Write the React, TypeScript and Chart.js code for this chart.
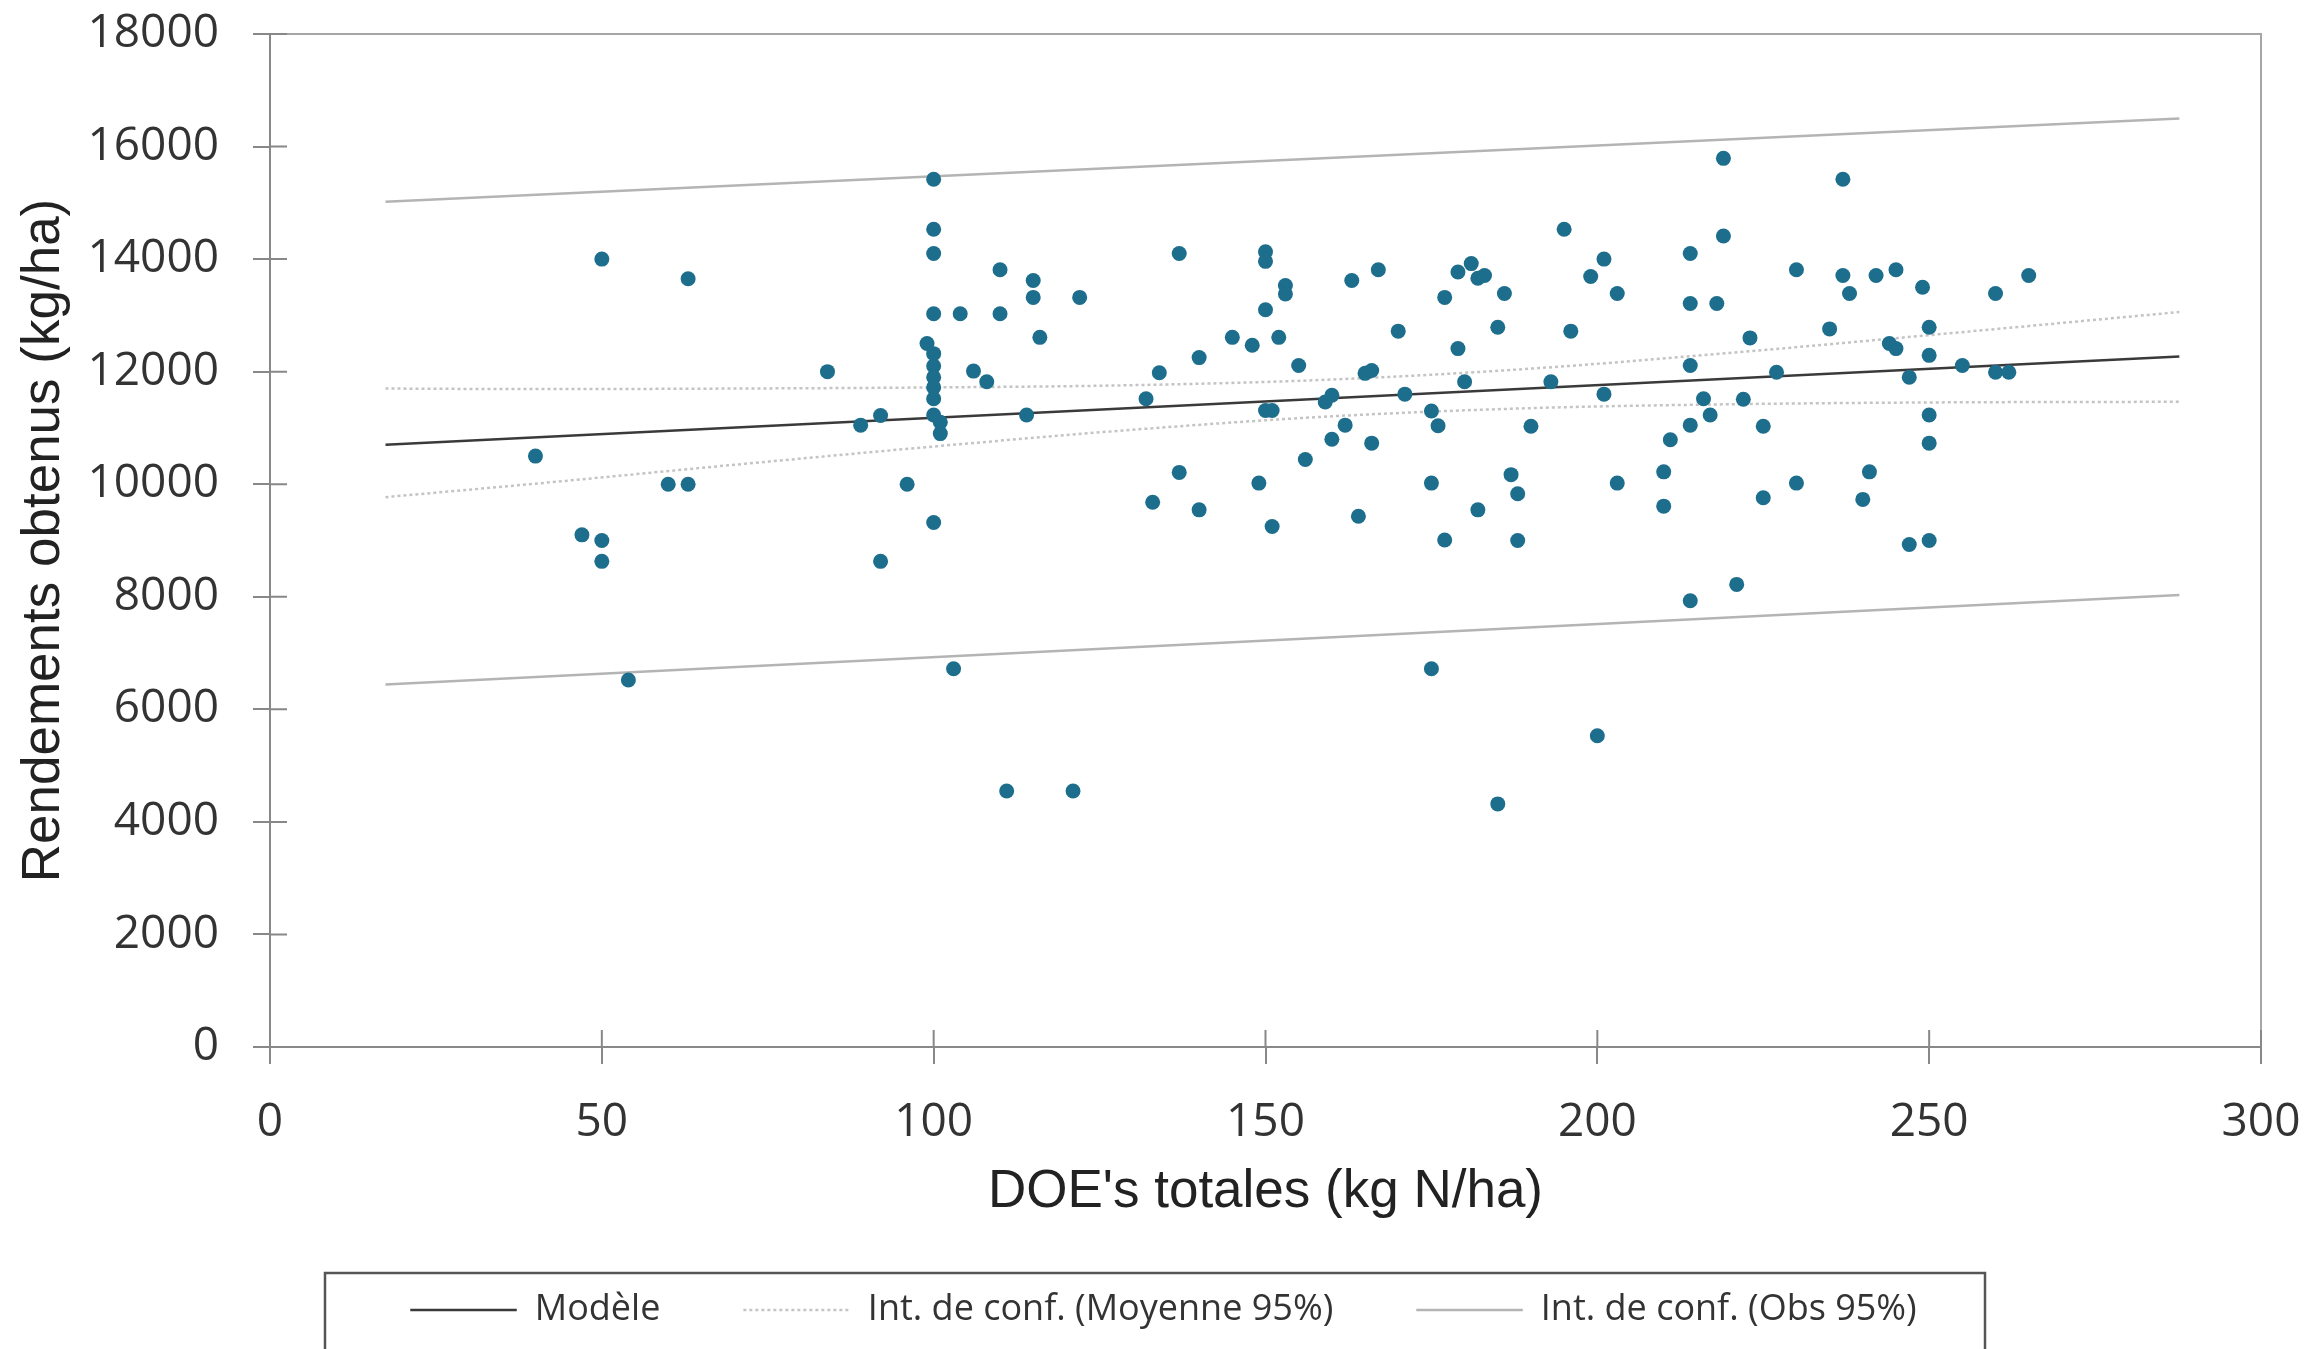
import React, { useEffect, useRef } from 'react';
import { Chart, registerables } from 'chart.js';

Chart.register(...registerables);

// Scatter observations: total N dose (kg N/ha) and yield (kg/ha)
const doses = [
  40, 47, 50, 50, 50, 54, 60, 63, 63, 84, 89, 92, 92, 96,
  100, 100, 100, 100, 99, 100, 100, 100, 100, 100, 100, 101, 101, 100,
  103, 104, 106, 108, 110, 110, 111, 114, 115, 115, 116, 121, 122,
  132, 133, 134, 137, 137, 140, 140, 145, 148, 149, 150, 150, 150, 150, 151, 151,
  152, 153, 153, 155, 156, 159, 160, 160, 162, 163, 164, 165, 166, 166, 167,
  170, 171, 175, 175, 175, 176, 177, 177, 179, 179, 180, 181, 182, 183, 182,
  185, 186, 185, 187, 188, 188, 190, 193, 195, 196, 199, 200, 201, 201, 203, 203,
  210, 210, 211, 214, 214, 214, 214, 214, 216, 217, 218, 219, 219, 221, 222, 223,
  225, 225, 227, 230, 230, 235, 237, 237, 238, 240, 241, 242, 244, 245, 245,
  247, 247, 249, 250, 250, 250, 250, 250, 255, 260, 260, 262, 265,
];
const yields = [
  10500, 9100, 9000, 8630, 14000, 6520, 10000, 10000, 13650, 12000, 11050, 11220, 8630, 10000,
  15420, 14530, 14100, 13030, 12500, 12320, 12100, 11900, 11720, 11520, 11230, 11100, 10900, 9320,
  6720, 13030, 12010, 11820, 13030, 13810, 4550, 11230, 13620, 13320, 12610, 4550, 13320,
  11520, 9680, 11980, 10210, 14100, 12250, 9545, 12610, 12470, 10020, 14130, 13960, 13100, 11310, 11310, 9250,
  12610, 13530, 13380, 12110, 10440, 11460, 11580, 10800, 11050, 13620, 9430, 11970, 12020, 10730, 13810,
  12720, 11600, 10020, 6720, 11300, 11040, 13320, 9010, 12410, 13770, 11820, 13920, 13660, 13710, 9545,
  12790, 13390, 4320, 10170, 9830, 9000, 11030, 11820, 14530, 12720, 13690, 5530, 14000, 11600, 13390, 10020,
  10220, 9610, 10790, 14100, 13210, 12110, 11050, 7930, 11520, 11230, 13210, 15790, 14410, 8220, 11510, 12600,
  11030, 9760, 11990, 13810, 10020, 12760, 15420, 13710, 13390, 9730, 10220, 13710, 12500, 12410, 13810,
  11900, 8930, 13500, 12790, 12290, 11230, 10730, 9000, 12110, 13390, 11990, 11990, 13710,
];

// Fitted model and 95% observation interval (straight lines)
const fitX = [17.4, 287.7];
const modelY = [10700, 12270];
const obsUpperY = [15020, 16500];
const obsLowerY = [6440, 8030];

// 95% confidence interval of the mean (curved bands)
const bandX = [17.4, 40, 70, 100, 130, 160, 190, 220, 250, 287.7];
const meanUpperY = [11700, 11690, 11700, 11720, 11760, 11860, 12054, 12333, 12649, 13060];
const meanLowerY = [9770, 10010, 10346, 10670, 10968, 11207, 11352, 11421, 11453, 11465];

const xTitle = "DOE's totales (kg N/ha)";
const yTitle = 'Rendements obtenus (kg/ha)';
const labelModel = 'Modèle';
const labelMean = 'Int. de conf. (Moyenne 95%)';
const labelObs = 'Int. de conf. (Obs 95%)';

const toPts = (xs: number[], ys: number[]) => xs.map((x, i) => ({ x, y: ys[i] }));

const framePlugin = {
  id: 'frameAndTicks',
  afterUpdate(chart: any) {
    const lg = chart.legend;
    if (lg) { lg.left += 33; lg.right += 33; }
  },
  afterDraw(chart: any) {
    const { ctx, chartArea: a, scales } = chart;
    ctx.save();
    // top and right border
    ctx.strokeStyle = '#a6a6a6';
    ctx.lineWidth = 2;
    ctx.beginPath();
    ctx.moveTo(a.left, a.top);
    ctx.lineTo(a.right, a.top);
    ctx.lineTo(a.right, a.bottom);
    ctx.stroke();
    // inner halves of the crossing tick marks
    ctx.strokeStyle = '#888';
    ctx.beginPath();
    scales.x.ticks.forEach((t: any) => {
      const px = scales.x.getPixelForValue(t.value);
      ctx.moveTo(px, a.bottom);
      ctx.lineTo(px, a.bottom - 17);
    });
    scales.y.ticks.forEach((t: any) => {
      const py = scales.y.getPixelForValue(t.value);
      ctx.moveTo(a.left, py);
      ctx.lineTo(a.left + 17, py);
    });
    ctx.stroke();
    // legend frame
    ctx.strokeStyle = '#555';
    ctx.lineWidth = 2.5;
    ctx.strokeRect(325, 1273, 1660, 120);
    ctx.restore();
  },
};

const tickFont = { family: 'Open Sans', size: 46 };
const plain = (v: any) => String(v);

export default function App() {
  const ref = useRef<HTMLCanvasElement | null>(null);

  useEffect(() => {
    if (!ref.current) return;
    const chart = new Chart(ref.current, {
      type: 'scatter',
      data: {
        datasets: [
          {
            label: 'Observations',
            data: toPts(doses, yields),
            backgroundColor: '#1d6e8c',
            borderWidth: 0,
            pointRadius: 7.5,
            order: 0,
            inLegend: false,
          } as any,
          {
            label: labelModel,
            data: toPts(fitX, modelY),
            showLine: true,
            borderColor: '#3a3a3a',
            backgroundColor: '#3a3a3a',
            borderWidth: 2.5,
            pointRadius: 0,
            order: 1,
            inLegend: true,
          },
          {
            label: labelMean,
            data: toPts(bandX, meanUpperY),
            showLine: true,
            cubicInterpolationMode: 'monotone',
            borderColor: '#c4c4c4',
            backgroundColor: '#c4c4c4',
            borderDash: [3, 3],
            borderWidth: 2.5,
            pointRadius: 0,
            order: 2,
            inLegend: true,
          },
          {
            label: labelMean,
            data: toPts(bandX, meanLowerY),
            showLine: true,
            cubicInterpolationMode: 'monotone',
            borderColor: '#c4c4c4',
            backgroundColor: '#c4c4c4',
            borderDash: [3, 3],
            borderWidth: 2.5,
            pointRadius: 0,
            order: 2,
            inLegend: false,
          },
          {
            label: labelObs,
            data: toPts(fitX, obsUpperY),
            showLine: true,
            borderColor: '#b4b4b4',
            backgroundColor: '#b4b4b4',
            borderWidth: 2.5,
            pointRadius: 0,
            order: 3,
            inLegend: true,
          },
          {
            label: labelObs,
            data: toPts(fitX, obsLowerY),
            showLine: true,
            borderColor: '#b4b4b4',
            backgroundColor: '#b4b4b4',
            borderWidth: 2.5,
            pointRadius: 0,
            order: 3,
            inLegend: false,
          },
        ] as any,
      },
      options: {
        responsive: false,
        animation: false,
        maintainAspectRatio: false,
        layout: { padding: { top: 34, right: 56, bottom: 11, left: 0 } },
        plugins: {
          tooltip: { enabled: false },
          legend: {
            display: true,
            position: 'bottom',
            labels: {
              boxWidth: 106.5,
              boxHeight: 0,
              padding: 83,
              color: '#333',
              font: { family: 'Open Sans', size: 36 },
              filter: (item: any, data: any) => !!data.datasets[item.datasetIndex].inLegend,
            },
          },
        },
        scales: {
          x: {
            type: 'linear',
            min: 0,
            max: 300,
            ticks: { stepSize: 50, padding: 31, color: '#333', font: tickFont, callback: plain },
            grid: { drawOnChartArea: false, drawTicks: true, tickLength: 17, color: '#888', lineWidth: 2 },
            border: { display: true, color: '#888', width: 2 },
            title: {
              display: true,
              text: xTitle,
              color: '#222',
              font: { family: 'Liberation Sans', size: 53, lineHeight: 1 },
              padding: { top: 0, bottom: -10 },
            },
            afterFit: (s: any) => {
              s.height = 162;
              s.paddingLeft = 0; s.paddingRight = 0; s.paddingTop = 0; s.paddingBottom = 0;
            },
          },
          y: {
            type: 'linear',
            min: 0,
            max: 18000,
            ticks: { stepSize: 2000, padding: 34, color: '#333', font: tickFont, callback: plain },
            grid: { drawOnChartArea: false, drawTicks: true, tickLength: 17, color: '#888', lineWidth: 2 },
            border: { display: true, color: '#888', width: 2 },
            title: {
              display: true,
              text: yTitle,
              color: '#222',
              font: { family: 'Liberation Sans', size: 53, lineHeight: 1 },
              padding: { top: 18, bottom: 0 },
            },
            afterFit: (s: any) => {
              s.width = 270;
              s.paddingLeft = 0; s.paddingRight = 0; s.paddingTop = 0; s.paddingBottom = 0;
            },
          },
        },
      } as any,
      plugins: [framePlugin],
    });
    return () => chart.destroy();
  }, []);

  return (
    <div style={{ position: 'absolute', left: 0, top: 0, width: 2317, height: 1349, background: '#fff' }}>
      <canvas ref={ref} width={2317} height={1349} style={{ display: 'block' }} />
    </div>
  );
}
